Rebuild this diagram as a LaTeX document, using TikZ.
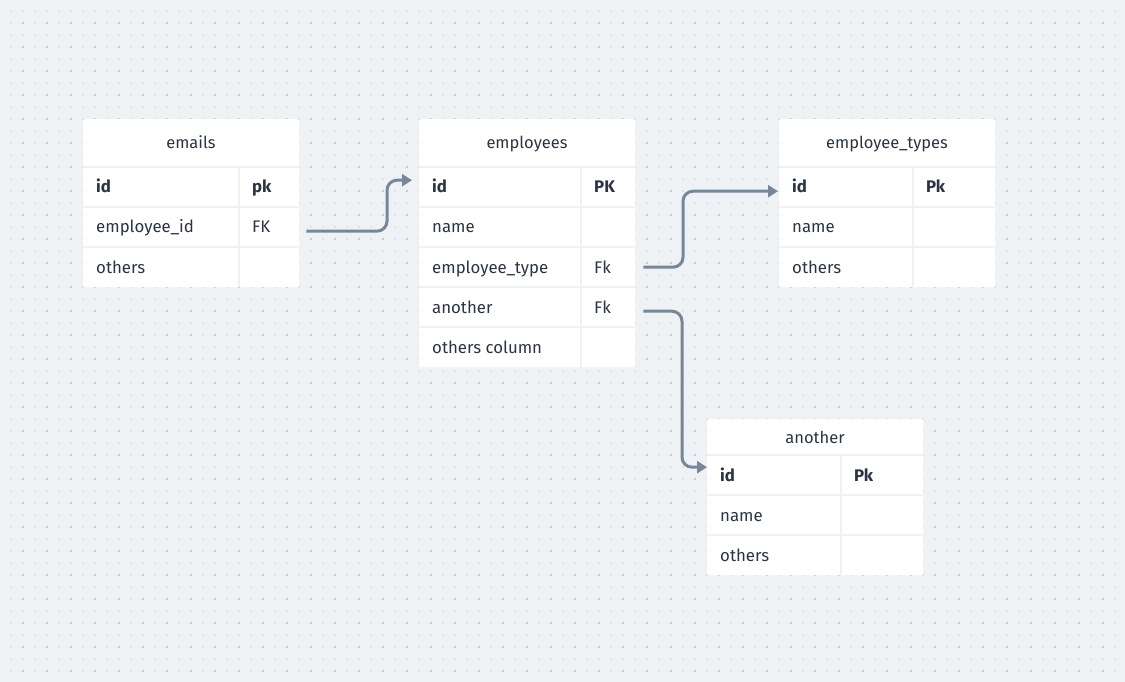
\documentclass[tikz,border=0pt]{standalone}
\usepackage{fontspec}
\setmainfont{Fira Sans}
\usetikzlibrary{arrows.meta}
\definecolor{bg}{HTML}{EFF2F5}
\definecolor{dotl}{HTML}{DCE2E8}
\definecolor{dotd}{HTML}{C3CCD6}
\definecolor{ink}{HTML}{2A3444}
\definecolor{edge}{HTML}{77879A}
\tikzset{
  tbl/.style={fill=white, rounded corners=2pt, draw=none, inner sep=0, anchor=north west},
  rowbox/.style={inner sep=0, minimum width=216pt, minimum height=40pt, anchor=north west},
  ttl/.style={font=\fontsize{16.5}{19}\selectfont, text=ink, anchor=base, inner sep=0},
  cell/.style={font=\fontsize{16.8}{19}\selectfont, text=ink, anchor=base west, inner sep=0},
  key/.style={font=\fontsize{16.8}{19}\selectfont\bfseries, text=ink, anchor=base west, inner sep=0},
  sep/.style={draw=bg, line width=2pt},
  conn/.style={draw=edge, line width=3pt, rounded corners=10pt, -{Triangle[length=10pt,width=12pt]}}
}
\begin{document}
\begin{tikzpicture}[x=1pt,y=-1pt]
\useasboundingbox (0,0) rectangle (1125,682);
\fill[bg] (0,0) rectangle (1125,682);
% dot grid
\foreach \i in {0,...,92}{\foreach \j in {0,...,55}{\fill[dotl] ({10+12*\i},{10+12*\j}) rectangle ++(2,2);}}
\foreach \i in {0,...,45}{\foreach \j in {0,...,27}{\fill[dotd] ({22+24*\i},{22+24*\j}) rectangle ++(2,2);}}

% ---------- emails ----------
\node[tbl, minimum width=216pt, minimum height=168pt] (emails) at (83,119) {};
\draw[sep] (83,167) -- (299,167) (83,207) -- (299,207) (83,247) -- (299,247) (239,167) -- (239,287);
\node[ttl] (emails-t) at (191,149) {emails};
\node[rowbox] (emails-r1) at (83,167) {};
\node[rowbox] (emails-r2) at (83,207) {};
\node[rowbox] (emails-r3) at (83,247) {};
\node[key] (emails-c11) at (96,193) {id};
\node[key] (emails-c12) at (252,193) {pk};
\node[cell] (emails-c21) at (96,233) {employee\_id};
\node[cell] (emails-c22) at (252,233) {FK};
\node[cell] (emails-c31) at (96,273) {others};

% ---------- employees ----------
\node[tbl, minimum width=216pt, minimum height=248pt] (employees) at (419,119) {};
\draw[sep] (419,167) -- (635,167) (419,207) -- (635,207) (419,247) -- (635,247) (419,287) -- (635,287) (419,327) -- (635,327) (581,167) -- (581,367);
\node[ttl] (employees-t) at (527,149) {employees};
\node[rowbox] (employees-r1) at (419,167) {};
\node[rowbox] (employees-r2) at (419,207) {};
\node[rowbox] (employees-r3) at (419,247) {};
\node[rowbox] (employees-r4) at (419,287) {};
\node[rowbox] (employees-r5) at (419,327) {};
\node[key] (employees-c11) at (432,193) {id};
\node[key] (employees-c12) at (594,193) {PK};
\node[cell] (employees-c21) at (432,233) {name};
\node[cell] (employees-c31) at (432,273) {employee\_type};
\node[cell] (employees-c32) at (594,273) {Fk};
\node[cell] (employees-c41) at (432,313) {another};
\node[cell] (employees-c42) at (594,313) {Fk};
\node[cell] (employees-c51) at (432,353) {others column};

% ---------- employee_types ----------
\node[tbl, minimum width=216pt, minimum height=168pt] (etypes) at (779,119) {};
\draw[sep] (779,167) -- (995,167) (779,207) -- (995,207) (779,247) -- (995,247) (913,167) -- (913,287);
\node[ttl] (etypes-t) at (887,149) {employee\_types};
\node[rowbox] (etypes-r1) at (779,167) {};
\node[rowbox] (etypes-r2) at (779,207) {};
\node[rowbox] (etypes-r3) at (779,247) {};
\node[key] (etypes-c11) at (792,193) {id};
\node[key] (etypes-c12) at (926,193) {Pk};
\node[cell] (etypes-c21) at (792,233) {name};
\node[cell] (etypes-c31) at (792,273) {others};

% ---------- another ----------
\node[tbl, minimum width=216pt, minimum height=156pt] (another) at (707,419) {};
\draw[sep] (707,455) -- (923,455) (707,495) -- (923,495) (707,535) -- (923,535) (841,455) -- (841,575);
\node[ttl] (another-t) at (815,443) {another};
\node[rowbox] (another-r1) at (707,455) {};
\node[rowbox] (another-r2) at (707,495) {};
\node[rowbox] (another-r3) at (707,535) {};
\node[key] (another-c11) at (720,481) {id};
\node[key] (another-c12) at (854,481) {Pk};
\node[cell] (another-c21) at (720,521) {name};
\node[cell] (another-c31) at (720,561) {others};

% ---------- connectors ----------
\draw[conn] ([shift={(7pt,-4pt)}]emails-r2.east) -| ([shift={(-32pt,7pt)}]employees-r1.west) -- ([shift={(-7pt,7pt)}]employees-r1.west);
\draw[conn] ([xshift=8pt]employees-r3.east) -| ([shift={(-96pt,-4pt)}]etypes-r1.west) -- ([shift={(-1pt,-4pt)}]etypes-r1.west);
\draw[conn] ([shift={(8pt,-4pt)}]employees-r4.east) -| ([shift={(-25pt,8pt)}]another-r1.west) -- ([shift={(0pt,8pt)}]another-r1.west);
\end{tikzpicture}
\end{document}
